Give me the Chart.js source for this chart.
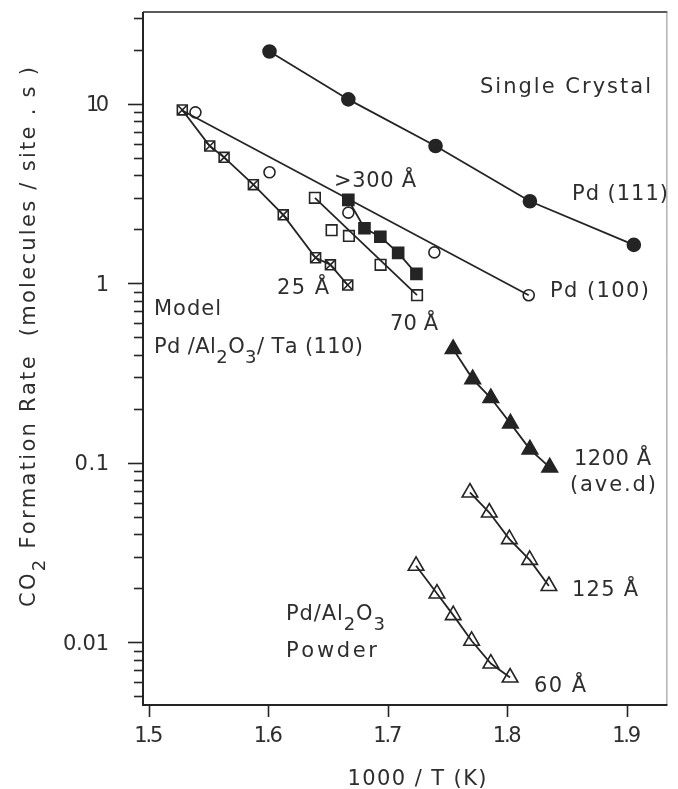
<!DOCTYPE html>
<html>
<head>
<meta charset="utf-8">
<title>CO2 formation rate vs 1000/T</title>
<style>
  html, body { margin: 0; padding: 0; background: #ffffff; }
  canvas { display: block; }
</style>
<script src="https://cdn.jsdelivr.net/npm/chart.js@4/dist/chart.umd.min.js"></script>
</head>
<body>
<canvas id="chart" width="678" height="789" style="width:678px;height:789px"></canvas>
<script>
// 1000/T (1/K) against CO2 formation rate (molecules / site . s), log scale.

// Single crystals
const pd111X = [1.601, 1.667, 1.740, 1.819, 1.906];
const pd111Y = [19.6, 10.6, 5.83, 2.87, 1.64];
const pd100X = [1.539, 1.601, 1.667, 1.739, 1.818];
const pd100Y = [8.98, 4.16, 2.48, 1.49, 0.86];
// hand-drawn fit through the Pd(100) points
const pd100FitX = [1.528, 1.818];
const pd100FitY = [9.2, 0.86];

// Model Pd/Al2O3/Ta(110) particles
const m25X = [1.528, 1.551, 1.563, 1.5875, 1.6125, 1.6396, 1.652, 1.6665];
const m25Y = [9.26, 5.83, 5.04, 3.55, 2.41, 1.39, 1.27, 0.98];
const m70X = [1.639, 1.653, 1.6675, 1.694, 1.7245];
const m70Y = [3.0, 1.98, 1.84, 1.27, 0.86];
const m300X = [1.667, 1.6805, 1.6938, 1.7087, 1.724];
const m300Y = [2.92, 2.03, 1.82, 1.48, 1.13];

// Pd/Al2O3 powders
const p1200X = [1.7547, 1.7711, 1.7863, 1.8027, 1.819, 1.8356];
const p1200Y = [0.431, 0.293, 0.2297, 0.166, 0.119, 0.0943];
const p125X = [1.7688, 1.785, 1.8018, 1.8188, 1.8349];
const p125Y = [0.0684, 0.0529, 0.0376, 0.0288, 0.0206];
const p60X = [1.7237, 1.7412, 1.7548, 1.7702, 1.7863, 1.8024];
const p60Y = [0.0267, 0.0187, 0.01418, 0.0102, 0.00762, 0.00637];

// Axes
const xTicks = [1.5, 1.6, 1.7, 1.8, 1.9];
const xTickLabels = ['1.5', '1.6', '1.7', '1.8', '1.9'];
const yTicks = [0.01, 0.1, 1, 10];
const yTickLabels = ['0.01', '0.1', '1', '10'];
const xRange = [1.4951, 1.9341];
const yRange = [0.004476, 32.54];

const INK = '#242424';
const TEXT = '#2e2e2e';
const FONT = '"DejaVu Sans", "Liberation Sans", sans-serif';

const pts = (xs, ys) => xs.map((x, i) => ({ x, y: ys[i] }));
const ends = (xs, ys) => [{ x: xs[0], y: ys[0] }, { x: xs[xs.length - 1], y: ys[ys.length - 1] }];

function marks(data, style, radius, fill, line) {
  return {
    data,
    showLine: !!line,
    borderColor: INK,
    borderWidth: 1.8,
    pointStyle: style,
    pointRadius: radius,
    pointBorderColor: INK,
    pointBorderWidth: 1.6,
    pointBackgroundColor: fill ? INK : 'rgba(0,0,0,0)',
    backgroundColor: fill ? INK : 'rgba(0,0,0,0)',
    fill: false,
    tension: 0
  };
}
function fitLine(data) {
  return { data, showLine: true, borderColor: INK, borderWidth: 1.8, pointRadius: 0, fill: false };
}

// Text placed on the plot (left edge, baseline, overall width)
const notes = [
  { parts: ['Single Crystal'], x: 480, y: 93, w: 171 },
  { parts: ['>300 Å'], x: 334, y: 187, w: 82 },
  { parts: ['Pd (111)'], x: 572, y: 200, w: 96 },
  { parts: ['Pd (100)'], x: 550, y: 297, w: 99 },
  { parts: ['25 Å'], x: 277, y: 294, w: 52 },
  { parts: ['Model'], x: 154, y: 315, w: 67 },
  { parts: ['Pd /Al', { sub: '2' }, 'O', { sub: '3' }, '/ Ta (110)'], x: 154, y: 353, w: 209 },
  { parts: ['70 Å'], x: 390, y: 330, w: 48 },
  { parts: ['1200 Å'], x: 574, y: 465, w: 77 },
  { parts: ['(ave.d)'], x: 570, y: 491, w: 86 },
  { parts: ['125 Å'], x: 572, y: 596, w: 66 },
  { parts: ['Pd/Al', { sub: '2' }, 'O', { sub: '3' }], x: 286, y: 620, w: 99 },
  { parts: ['Powder'], x: 286, y: 657, w: 91 },
  { parts: ['60 Å'], x: 534, y: 692, w: 52 }
];

const SIZE = 21, SUB = 18, SUBDROP = 10;

function pieces(parts) {
  const out = [];
  parts.forEach(p => {
    const sub = typeof p !== 'string';
    const s = sub ? p.sub : p;
    for (const ch of s) out.push({ ch, sub });
  });
  return out;
}
function measure(ctx, list) {
  let w = 0;
  list.forEach(c => {
    ctx.font = (c.sub ? SUB : SIZE) + 'px ' + FONT;
    c.w = ctx.measureText(c.ch).width;
    w += c.w;
  });
  return w;
}
// draws rich text with even letter spacing so that it spans `width`
function drawRich(ctx, parts, x, y, width, align) {
  const list = pieces(parts);
  const nat = measure(ctx, list);
  const sp = list.length > 1 && width ? (width - nat) / (list.length - 1) : 0;
  const total = nat + sp * (list.length - 1);
  let cx = align === 'center' ? x - total / 2 : align === 'right' ? x - total : x;
  ctx.textAlign = 'left';
  ctx.textBaseline = 'alphabetic';
  list.forEach(c => {
    ctx.font = (c.sub ? SUB : SIZE) + 'px ' + FONT;
    ctx.fillText(c.ch, cx, c.sub ? y + SUBDROP : y);
    cx += c.w + sp;
  });
}

const decor = {
  id: 'decor',
  beforeDatasetsDraw(chart) {
    const { ctx, chartArea: a, scales: { x, y } } = chart;
    ctx.save();
    ctx.strokeStyle = INK;
    ctx.lineCap = 'butt';
    // frame
    ctx.lineWidth = 1.4;
    ctx.beginPath();
    ctx.moveTo(a.left, a.top); ctx.lineTo(a.right, a.top);
    ctx.stroke();
    ctx.strokeStyle = '#8a8a8a';
    ctx.lineWidth = 1;
    ctx.beginPath();
    ctx.moveTo(a.right - 0.5, a.top); ctx.lineTo(a.right - 0.5, a.bottom);
    ctx.stroke();
    ctx.strokeStyle = INK;
    ctx.lineWidth = 2;
    ctx.beginPath();
    ctx.moveTo(a.left, a.top); ctx.lineTo(a.left, a.bottom); ctx.lineTo(a.right, a.bottom);
    ctx.stroke();

    // y ticks: long at decades, short at 2..9
    ctx.lineWidth = 1.6;
    for (let e = -3; e <= 2; e++) {
      for (let d = 1; d <= 9; d++) {
        const v = d * Math.pow(10, e);
        if (v < yRange[0] || v > yRange[1]) continue;
        const py = Math.round(y.getPixelForValue(v)) + 0.5;
        const len = d === 1 ? 15 : 9;
        ctx.beginPath();
        ctx.moveTo(a.left - len, py); ctx.lineTo(a.left, py);
        ctx.stroke();
      }
    }
    // x ticks
    xTicks.forEach(v => {
      const px = Math.round(x.getPixelForValue(v)) + 0.5;
      ctx.beginPath();
      ctx.moveTo(px, a.bottom); ctx.lineTo(px, a.bottom + 12);
      ctx.stroke();
    });
    ctx.restore();
  },
  afterDraw(chart) {
    const { ctx, scales: { x, y } } = chart;
    ctx.save();
    ctx.fillStyle = TEXT;

    // tick labels
    xTicks.forEach((v, i) => {
      drawRich(ctx, [xTickLabels[i]], x.getPixelForValue(v), 742, 29, 'center');
    });
    yTicks.forEach((v, i) => {
      const lab = yTickLabels[i];
      drawRich(ctx, [lab], 109, y.getPixelForValue(v) + 7.5, lab.length * 11.5, 'right');
    });

    // axis titles
    drawRich(ctx, ['1000 / T (K)'], 417, 785, 139, 'center');
    ctx.save();
    ctx.translate(35, 337);
    ctx.rotate(-Math.PI / 2);
    drawRich(ctx, ['CO', { sub: '2' }, ' Formation Rate  (molecules / site . s )'], 0, 0, 540, 'center');
    ctx.restore();

    // annotations
    notes.forEach(n => drawRich(ctx, n.parts, n.x, n.y, n.w, 'left'));
    ctx.restore();
  }
};

new Chart(document.getElementById('chart'), {
  type: 'scatter',
  data: {
    datasets: [
      marks(pts(pd111X, pd111Y), 'circle', 6.5, true, true),
      marks(pts(pd100X, pd100Y), 'circle', 5.5, false, false),
      fitLine(pts(pd100FitX, pd100FitY)),
      marks(pts(m25X, m25Y), 'rect', 7, false, true),
      marks(pts(m25X, m25Y), 'crossRot', 6.3, false, false),
      marks(pts(m70X, m70Y), 'rect', 7.5, false, false),
      fitLine(ends(m70X, m70Y)),
      marks(pts(m300X, m300Y), 'rect', 7.8, true, true),
      marks(pts(p1200X, p1200Y), 'triangle', 9, true, true),
      marks(pts(p125X, p125Y), 'triangle', 9, false, true),
      marks(pts(p60X, p60Y), 'triangle', 9, false, true)
    ]
  },
  options: {
    responsive: false,
    animation: false,
    devicePixelRatio: 1,
    layout: { padding: { top: 12, right: 1, left: 0, bottom: 0 } },
    plugins: { legend: { display: false }, tooltip: { enabled: false } },
    scales: {
      x: {
        type: 'linear',
        min: xRange[0],
        max: xRange[1],
        ticks: { display: false },
        grid: { display: false },
        border: { display: false },
        afterBuildTicks: s => { s.ticks = xTicks.map(value => ({ value })); },
        afterFit: s => { s.height = 84; }
      },
      y: {
        type: 'logarithmic',
        min: yRange[0],
        max: yRange[1],
        ticks: { display: false },
        grid: { display: false },
        border: { display: false },
        afterBuildTicks: s => { s.ticks = yTicks.map(value => ({ value })); },
        afterFit: s => { s.width = 143; }
      }
    }
  },
  plugins: [decor]
});
</script>
</body>
</html>
